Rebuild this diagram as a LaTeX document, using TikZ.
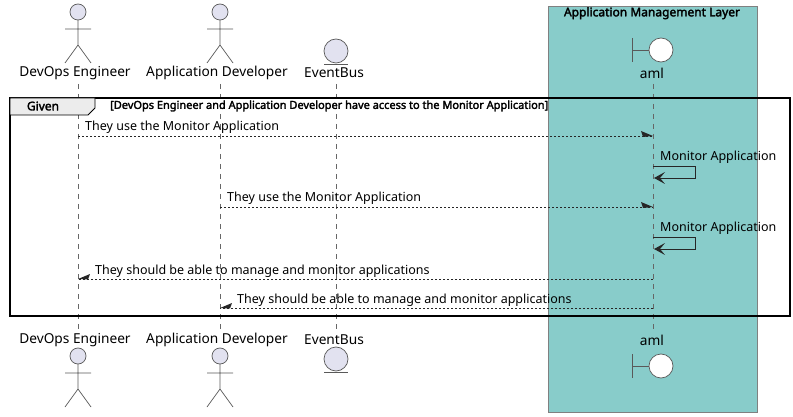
\documentclass[tikz,border=0pt]{standalone}
\usepackage{fontspec}
\setmainfont{Noto Sans}[AutoFakeBold=2.5]
\begin{document}
\begin{tikzpicture}[x=1pt,y=-1pt,
  lbl/.style={font=\fontsize{13.7}{15}\selectfont,inner sep=0pt},
  msg/.style={font=\fontsize{12.5}{14}\selectfont,inner sep=0pt,anchor=base west},
  life/.style={draw=gray!80!black,dash pattern=on 5pt off 5pt,line width=0.6pt},
  actor/.style={draw=gray!70!black,line width=0.7pt},
  dmsg/.style={draw=black!85,dash pattern=on 2pt off 2pt,line width=0.6pt},
  smsg/.style={draw=black!85,line width=0.9pt}]
\useasboundingbox (0,0) rectangle (793,417);
% group box
\fill[fill={rgb,255:red,136;green,204;blue,202},draw=gray] (548,6) rectangle (757,412);
\node[font=\bfseries\fontsize{12}{14}\selectfont,anchor=north,inner sep=0pt] (boxt) at (652,7) {Application Management Layer};
% lifeline coordinates
\coordinate (d) at (78,0); \coordinate (a) at (220,0); \coordinate (e) at (336,0); \coordinate (m) at (653,0);
\foreach \x in {78,220,336,653} \draw[life] (\x,84) -- (\x,330);
% actors
\foreach \x/\y in {78/12,220/12,78/356,220/356}{
  \draw[actor,fill={rgb,255:red,226;green,226;blue,240}] (\x,\y) circle (8);
  \draw[actor] (\x,\y+8) -- (\x,\y+33) (\x-13,\y+17) -- (\x+13,\y+17)
     (\x-13,\y+51) -- (\x,\y+33) -- (\x+13,\y+51);}
\node[lbl] (dt) at (75,73) {DevOps Engineer};
\node[lbl] (at) at (217,73) {Application Developer};
\node[lbl] (et) at (334,73) {EventBus};
\node[lbl] (mt) at (652,73) {aml};
\node[lbl] (db) at (75,340) {DevOps Engineer};
\node[lbl] (ab) at (217,340) {Application Developer};
\node[lbl] (eb) at (334,340) {EventBus};
\node[lbl] (mb) at (652,340) {aml};
% entity
\foreach \y in {51,359}{
 \draw[actor,fill={rgb,255:red,226;green,226;blue,240}] (336,\y) circle (12);
 \draw[actor] (324,\y+13.5) -- (348,\y+13.5);}
% boundary
\foreach \y in {50,366}{
 \draw[actor,fill=white] (661,\y) circle (12);
 \draw[actor] (632,\y-12) -- (632,\y+12) (632,\y) -- (649,\y);}
% frame
\draw[line width=1.2pt] (10,98) rectangle (790,316);
\fill[gray!15,draw=black,line width=0.8pt] (10,98) -- (95,98) -- (95,108) -- (88,115) -- (10,115) -- cycle;
\node[font=\bfseries\fontsize{12}{13}\selectfont,inner sep=0pt] (gv) at (43,106) {Given};
\node[font=\bfseries\fontsize{11}{12}\selectfont,inner sep=0pt,anchor=west] (cond) at (110,106) {[DevOps Engineer and Application Developer have access to the Monitor Application]};
% messages
\newcommand{\rhalf}[2]{\fill[black!85] (#1,#2) -- (#1-12,#2-5) -- (#1-10,#2+1) -- cycle;}
\newcommand{\lhalf}[2]{\fill[black!85] (#1,#2) -- (#1+12,#2-5) -- (#1+10,#2+0.5) -- cycle;}
\draw[dmsg] (78,136) -- (653,136); \rhalf{653}{136}
\node[msg] (m1) at (85,131) {They use the Monitor Application};
\draw[smsg] (653,166) -- (695,166) -- (695,178) -- (656,178);
\fill[black!85] (654,178) -- (665,172) -- (660,178) -- (665,184) -- cycle;
\node[msg] (m2) at (660,161) {Monitor Application};
\draw[dmsg] (220,207) -- (653,207); \rhalf{653}{207}
\node[msg] (m3) at (227,202) {They use the Monitor Application};
\draw[smsg] (653,237) -- (695,237) -- (695,249) -- (656,249);
\fill[black!85] (654,249) -- (665,243) -- (660,249) -- (665,255) -- cycle;
\node[msg] (m4) at (660,232) {Monitor Application};
\draw[dmsg] (653,279) -- (78,279); \lhalf{78}{279}
\node[msg] (m5) at (95,274) {They should be able to manage and monitor applications};
\draw[dmsg] (653,308) -- (220,308); \lhalf{220}{308}
\node[msg] (m6) at (237,303) {They should be able to manage and monitor applications};
\end{tikzpicture}
\end{document}
